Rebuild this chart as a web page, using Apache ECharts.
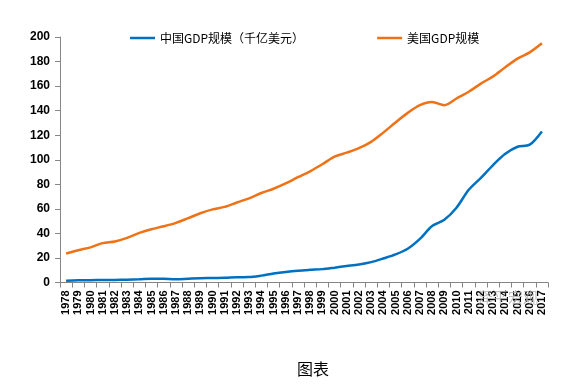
<!DOCTYPE html>
<html>
<head>
<meta charset="utf-8">
<script src="https://cdn.jsdelivr.net/npm/echarts@6/dist/echarts.min.js"></script>
<style>html,body{margin:0;padding:0;background:#fff}#c{width:582px;height:385px}</style>
</head>
<body>
<div id="c"></div>
<script>
var years = ['1978','1979','1980','1981','1982','1983','1984','1985','1986','1987','1988','1989','1990','1991','1992','1993','1994','1995','1996','1997','1998','1999','2000','2001','2002','2003','2004','2005','2006','2007','2008','2009','2010','2011','2012','2013','2014','2015','2016','2017'];
var chinaGDP = [1.5,1.8,1.9,2.0,2.1,2.3,2.6,3.1,3.0,2.7,3.1,3.5,3.6,3.8,4.3,4.4,5.6,7.3,8.6,9.6,10.3,10.9,12.1,13.4,14.7,16.6,19.6,22.9,27.5,35.5,46.0,51.1,60.9,75.5,85.3,95.7,104.8,110.6,112.3,123.1];
var usGDP = [23.6,26.3,28.6,32.1,33.4,36.3,40.4,43.4,45.8,48.6,52.4,56.4,59.6,61.6,65.2,68.6,72.9,76.4,80.7,85.8,90.6,96.3,102.5,105.8,109.4,114.6,122.1,130.4,138.2,144.5,147.1,144.5,149.9,155.4,162.0,167.9,175.3,182.4,187.5,194.9];
var seriesNames = ['中国GDP规模（千亿美元）','美国GDP规模'];
var yTicks = {min:0, max:200, interval:20};

var chart = echarts.init(document.getElementById('c'));
chart.setOption({
  animation:false,
  title:{text:'图表', left:292, top:356, textStyle:{fontSize:16, fontWeight:'normal', color:'#000', fontFamily:'Noto Sans CJK SC'}},
  legend:{
    data:seriesNames, left:125, top:27, icon:'rect', itemWidth:25, itemHeight:2.5, itemGap:73,
    textStyle:{fontSize:12, color:'#000', fontFamily:'Noto Sans CJK SC'}
  },
  grid:{left:60, right:34, top:37, bottom:102.5, containLabel:false},
  xAxis:{
    type:'category', data:years, boundaryGap:true,
    axisLine:{lineStyle:{color:'#868686', width:1}},
    axisTick:{show:true, alignWithLabel:false, length:5, lineStyle:{color:'#868686'}},
    axisLabel:{interval:0, rotate:90, fontSize:11, fontWeight:'bold', color:'#000', fontFamily:'Liberation Sans', margin:8}
  },
  yAxis:{
    type:'value', min:yTicks.min, max:yTicks.max, interval:yTicks.interval,
    splitLine:{show:false},
    axisLine:{show:true, lineStyle:{color:'#868686', width:1}},
    axisTick:{show:true, length:5, lineStyle:{color:'#868686'}},
    axisLabel:{fontSize:12, fontWeight:'bold', color:'#000', fontFamily:'Liberation Sans', margin:10}
  },
  series:[
    {name:seriesNames[0], type:'line', data:chinaGDP, smooth:0.3, symbol:'none', lineStyle:{color:'#0070C0', width:2.5}, itemStyle:{color:'#0070C0'}},
    {name:seriesNames[1], type:'line', data:usGDP, smooth:0.3, symbol:'none', lineStyle:{color:'#EE7318', width:2.5}, itemStyle:{color:'#EE7318'}}
  ],
  graphic:[
    {type:'text', left:478, top:290, z:100, style:{text:'泽平宏观', fontSize:15, fill:'rgba(170,170,170,0.75)', fontFamily:'Noto Sans CJK SC'}}
  ]
});
</script>
</body>
</html>
